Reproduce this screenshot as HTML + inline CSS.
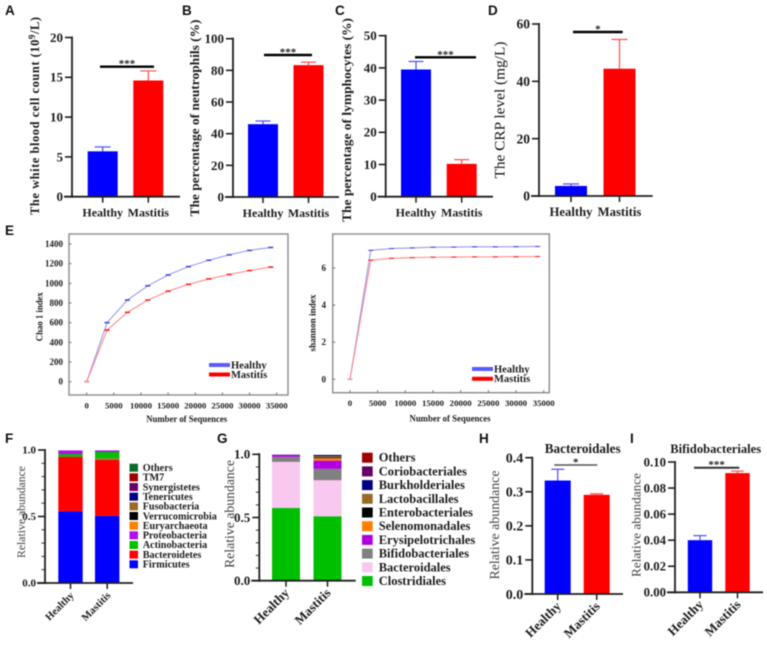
<!DOCTYPE html>
<html lang="en">
<head>
<meta charset="utf-8">
<title>Blood indices and gut microbiota in healthy and mastitis groups</title>
<style>
html,body{margin:0;padding:0;background:#fff;}
#figure{display:block;filter:blur(0.5px);}
text{font-family:"Liberation Serif",serif;fill:#1c1c1c;}
.bold{font-weight:700;}
.panel{font-family:"Liberation Sans",sans-serif;font-weight:700;font-size:13.5px;fill:#111;}
</style>
</head>
<body>
<svg id="figure" xmlns="http://www.w3.org/2000/svg" width="767" height="646" viewBox="0 0 767 646"></svg>
<script>
// ---------- DATA ----------
const groupLabels = ['Healthy', 'Mastitis'];

const aValues = [5.7, 14.6];
const aUpper = [6.25, 15.8];
const aTicks = [0, 5, 10, 15, 20];
const bValues = [46, 83.3];
const bUpper = [48, 85.2];
const bTicks = [0, 20, 40, 60, 80, 100];
const cValues = [39.5, 10.2];
const cUpper = [42, 11.5];
const cTicks = [0, 10, 20, 30, 40, 50];
const dValues = [3.5, 44.4];
const dUpper = [4.2, 54.6];
const dTicks = [0, 20, 40, 60];
const hValues = [0.333, 0.291];
const hUpper = [0.366, 0.294];
const hTicks = ['0.0', '0.1', '0.2', '0.3', '0.4'];
const iValues = [0.04, 0.0915];
const iUpper = [0.0435, 0.093];
const iTicks = ['0.00', '0.02', '0.04', '0.06', '0.08', '0.10'];

const sequences = [0, 3750, 7500, 11250, 15000, 18750, 22500, 26250, 30000, 33900];
const chaoHealthy = [0, 600, 830, 975, 1085, 1170, 1235, 1290, 1335, 1365];
const chaoMastitis = [0, 525, 705, 830, 920, 990, 1045, 1090, 1130, 1165];
const shannonHealthy = [0, 6.95, 7.05, 7.08, 7.12, 7.13, 7.14, 7.14, 7.15, 7.16];
const shannonMastitis = [0, 6.42, 6.52, 6.56, 6.58, 6.59, 6.6, 6.6, 6.61, 6.62];
const seqTicks = [0, 5000, 10000, 15000, 20000, 25000, 30000, 35000];
const chaoTicks = [0, 200, 400, 600, 800, 1000, 1200, 1400];
const shannonTicks = [0, 2, 4, 6];

const fStackNames = ['Firmicutes', 'Bacteroidetes', 'Unassigned', 'Actinobacteria', 'Proteobacteria'];
const fStackColors = ['#0000ff', '#ff0000', '#8c8a30', '#00c000', '#b010e8'];
const fHealthy = [0.54, 0.41, 0, 0.02, 0.027];
const fMastitis = [0.505, 0.42, 0.015, 0.045, 0.012];
const fLegendNames = ['Others', 'TM7', 'Synergistetes', 'Tenericutes', 'Fusobacteria', 'Verrucomicrobia', 'Euryarchaeota', 'Proteobacteria', 'Actinobacteria', 'Bacteroidetes', 'Firmicutes'];
const fLegendColors = ['#0b6b2b', '#a00000', '#660066', '#00007f', '#996a26', '#000000', '#ff8000', '#b010e8', '#00c000', '#ff0000', '#0000ff'];

const gStackNames = ['Clostridiales', 'Bacteroidales', 'Bifidobacteriales', 'Erysipelotrichales', 'Selenomonadales', 'Enterobacteriales', 'Lactobacillales', 'Burkholderiales'];
const gStackColors = ['#00bf00', '#f8c8f0', '#808080', '#b000e0', '#ff8000', '#000000', '#996a26', '#000080'];
const gHealthy = [0.575, 0.365, 0.04, 0.015, 0, 0, 0, 0.002];
const gMastitis = [0.51, 0.285, 0.09, 0.065, 0.02, 0.005, 0.01, 0.01];
const gLegendNames = ['Others', 'Coriobacteriales', 'Burkholderiales', 'Lactobacillales', 'Enterobacteriales', 'Selenomonadales', 'Erysipelotrichales', 'Bifidobacteriales', 'Bacteroidales', 'Clostridiales'];
const gLegendColors = ['#a00000', '#660066', '#000080', '#996a26', '#000000', '#ff8000', '#b000e0', '#808080', '#f8c8f0', '#00bf00'];
const stackTicks = ['0.0', '0.5', '1.0'];

const panelLetters = ['A', 'B', 'C', 'D', 'E', 'F', 'G', 'H', 'I'];

// ---------- HELPERS ----------
const NS = 'http://www.w3.org/2000/svg';
const root = document.getElementById('figure');

function mk(tag, attrs, parent) {
  const el = document.createElementNS(NS, tag);
  for (const k in attrs) el.setAttribute(k, attrs[k]);
  (parent || root).appendChild(el);
  return el;
}
function line(p, x1, y1, x2, y2, color, w) {
  return mk('line', {x1: x1, y1: y1, x2: x2, y2: y2, stroke: color, 'stroke-width': w}, p);
}
function label(p, str, x, y, size, anchor, bold, extra) {
  const t = mk('text', Object.assign({x: x, y: y, 'font-size': size, 'text-anchor': anchor || 'middle'}, extra || {}), p);
  if (bold) t.setAttribute('class', 'bold');
  t.textContent = str;
  return t;
}
function rotatedTitle(p, str, cx, cy, size, len, bold, color) {
  const t = mk('text', {
    transform: 'translate(' + cx + ' ' + cy + ') rotate(-90)',
    'font-size': size, 'text-anchor': 'middle', textLength: len, lengthAdjust: 'spacingAndGlyphs'
  }, p);
  if (bold) t.setAttribute('class', 'bold');
  if (color) t.setAttribute('style', 'fill:' + color);
  t.textContent = str;
  return t;
}
const AXIS = '#1e1e1e';

function axes(g, c, ticks, max, tickSize, minorStep) {
  const y = v => c.y0 - v / max * (c.y0 - c.yTop);
  const yAxis = line(g, c.x0, c.y0 + 1, c.x0, c.yTop - 1, AXIS, 1.8);
  
  
  const xAxis = line(g, c.x0 - 8, c.y0, c.xEnd, c.y0, AXIS, 1.8);
  
  
  ticks.forEach(tk => {
    const v = Number(tk);
    const tm = line(g, c.x0 - 7, y(v), c.x0, y(v), AXIS, 1.6);
    
    
    const tl = label(g, String(tk), c.x0 - 9, y(v) + tickSize * 0.34, tickSize, 'end', true);
    
    
  });
  if (minorStep) {
    for (let v = 0; v <= max + 1e-9; v += minorStep) {
      const mt = line(g, c.x0 - 3.5, y(v), c.x0, y(v), AXIS, 0.9);
      
      
    }
  }
  return y;
}
function xLabels(g, c) {
  groupLabels.forEach((name, i) => {
    const cx = c.centers[i];
    const tm = line(g, cx, c.y0, cx, c.y0 + 6, AXIS, 1.5);
    
    
    let t;
    if (c.rotated) {
      const ax = cx + 4, ay = c.y0 + 13;
      t = mk('text', {
        transform: 'translate(' + ax + ' ' + ay + ') rotate(-45)',
        'font-size': c.xSize, 'text-anchor': 'end'
      }, g);
      t.setAttribute('class', 'bold');
      t.textContent = name;
    } else {
      t = label(g, name, cx, c.y0 + 20, c.xSize, 'middle', true);
    }
    
    
  });
}

function barPanel(c, values, upper, ticks) {
  const g = mk('g', {});
  
  
  const colors = ['#0000ff', '#ff0000'];
  const errColors = ['#4a4aff', '#ff4a4a'];
  const max = Number(ticks[ticks.length - 1]);
  const y = v => c.y0 - v / max * (c.y0 - c.yTop);
  values.forEach((v, i) => {
    const cx = c.centers[i];
    const bar = mk('rect', {x: cx - c.barW / 2, y: y(v), width: c.barW, height: c.y0 - y(v), fill: colors[i]}, g);
    
    
    const stem = line(g, cx, y(v), cx, y(upper[i]), errColors[i], 1.2);
    
    
    const cap = line(g, cx - c.capW / 2, y(upper[i]), cx + c.capW / 2, y(upper[i]), errColors[i], 1.2);
    
    
  });
  axes(g, c, ticks, max, c.tickSize, 0);
  xLabels(g, c);
  const sig = line(g, c.sig[0], c.sig[2], c.sig[1], c.sig[2], c.sigColor || '#000', c.sigW || 2.4);
  
  
  const star = label(g, c.stars, (c.sig[0] + c.sig[1]) / 2, c.sig[2] + 0.5, 11, 'middle', true);
  
  
  return g;
}

function linePanel(c, healthy, mastitis, ticks) {
  const g = mk('g', {});
  
  
  const frame = mk('rect', {x: c.fx0, y: c.fy0, width: c.fx1 - c.fx0, height: c.fy1 - c.fy0, fill: '#fff', stroke: '#8c8c8c', 'stroke-width': 1.4}, g);
  
  
  const x = v => c.x0 + v / 35000 * (c.x35 - c.x0);
  const maxT = ticks[ticks.length - 1];
  const y = v => c.yZero - v / maxT * (c.yZero - c.yMax);
  ticks.forEach(tk => {
    const tm = line(g, c.fx0, y(tk), c.fx0 + 2.5, y(tk), '#666', 0.9);
    
    
    const tl = label(g, String(tk), c.yLabelX, y(tk) + 3, 9, 'end', true);
    
    
  });
  seqTicks.forEach(tk => {
    const tm = line(g, x(tk), c.fy1, x(tk), c.fy1 - 2.5, '#666', 0.9);
    
    
    const tl = label(g, String(tk), x(tk), c.xLabelY, 8.8, 'middle', true);
    
    
  });
  const series = [
    {id: 'healthy', data: healthy, line: '#9a9aec', mark: '#4a4ad8'},
    {id: 'mastitis', data: mastitis, line: '#ff8a8a', mark: '#ff2020'}
  ];
  series.forEach(s => {
    const pts = s.data.map((v, i) => x(sequences[i]) + ',' + y(v)).join(' ');
    const pl = mk('polyline', {points: pts, fill: 'none', stroke: s.line, 'stroke-width': 1.1}, g);
    
    
    s.data.forEach((v, i) => {
      const m = line(g, x(sequences[i]) - 2.5, y(v), x(sequences[i]) + 2.5, y(v), i === 0 ? s.line : s.mark, c.markW);
      
      
    });
  });
  const yt = rotatedTitle(g, c.yTitle, c.yTitleX, c.yTitleY, 9, c.yTitleLen, true);
  
  
  const xt = label(g, 'Number of Sequences', c.xTitleX, c.xTitleY, 9, 'middle', true, {textLength: 81, lengthAdjust: 'spacingAndGlyphs'});
  
  
  const leg = [['Healthy', '#5a5aff', c.legY[0]], ['Mastitis', '#ff0000', c.legY[1]]];
  leg.forEach(e => {
    const sw = line(g, c.legX, e[2], c.legX + 21, e[2], e[1], 4);
    
    
    const tx = label(g, e[0], c.legX + 22, e[2] + 3.5, 10.5, 'start', true);
    
    
  });
  return g;
}

function stackPanel(c, names, colors, healthy, mastitis, legendNames, legendColors) {
  const g = mk('g', {});
  
  
  const y = v => c.y0 - v * (c.y0 - c.yTop);
  [healthy, mastitis].forEach((vals, b) => {
    let acc = 0;
    vals.forEach((v, i) => {
      if (v <= 0) return;
      const seg = mk('rect', {x: c.centers[b] - c.barW / 2, y: y(acc + v), width: c.barW, height: y(acc) - y(acc + v), fill: colors[i]}, g);
      
      
      acc += v;
    });
  });
  axes(g, c, stackTicks, 1, c.tickSize, 0.1);
  xLabels(g, c);
  const yt = rotatedTitle(g, 'Relative abundance', c.yTitleX, c.yTitleY, c.yTitleSize, c.yTitleLen, false, '#444');
  
  
  legendNames.forEach((n, i) => {
    const ly = c.legTop + i * c.legStep;
    const sw = mk('rect', {x: c.legX, y: ly - c.swH / 2, width: c.swW, height: c.swH, fill: legendColors[i]}, g);
    
    
    const tx = label(g, n, c.legText, ly + c.legSize * 0.32, c.legSize, 'start', true);
    
    
  });
  return g;
}

// ---------- PANELS ----------
const pa = barPanel({name: 'panel-a-white-blood-cell', x0: 72, y0: 196.7, yTop: 37.5, xEnd: 180, centers: [102.7, 148.3], barW: 30, capW: 16, tickSize: 13, xSize: 12, sig: [100, 154, 66.7], stars: '***'}, aValues, aUpper, aTicks);
const ta = mk('text', {transform: 'translate(39 116) rotate(-90)', 'font-size': 12.5, 'text-anchor': 'middle', class: 'bold', textLength: 198, lengthAdjust: 'spacing'}, pa);


ta.appendChild(document.createTextNode('The white blood cell count (10'));
const sup = mk('tspan', {dy: -4, 'font-size': 9}, ta);
sup.textContent = '9';
const afterSup = mk('tspan', {dy: 4}, ta);
afterSup.textContent = '/L)';

const pb = barPanel({name: 'panel-b-neutrophils', x0: 233, y0: 197, yTop: 38.7, xEnd: 339, centers: [263, 308.5], barW: 30, capW: 15, tickSize: 13, xSize: 12, sig: [264, 312, 55], stars: '***'}, bValues, bUpper, bTicks);
const tb = rotatedTitle(pb, 'The percentage of neutrophils (%)', 199, 118, 12.5, 197, true);



const pc = barPanel({name: 'panel-c-lymphocytes', x0: 385.7, y0: 196.7, yTop: 35.7, xEnd: 493, centers: [416, 461.7], barW: 30, capW: 15, tickSize: 13, xSize: 12, sig: [415, 476, 57.3], stars: '***'}, cValues, cUpper, cTicks);
const tc = rotatedTitle(pc, 'The percentage of lymphocytes (%)', 351, 120, 12.5, 204, true);



const pd = barPanel({name: 'panel-d-crp', x0: 539, y0: 196, yTop: 24, xEnd: 652.7, centers: [571, 619.5], barW: 32, capW: 16, tickSize: 13.5, xSize: 12.7, sig: [573, 622.7, 32], stars: '*'}, dValues, dUpper, dTicks);
const td = rotatedTitle(pd, 'The CRP level (mg/L)', 504.5, 110, 14.5, 137, false, '#111');



linePanel({name: 'panel-e-chao1', fx0: 69, fx1: 288, fy0: 234, fy1: 395, x0: 86.7, x35: 276.7, yZero: 381.7, yMax: 244, yLabelX: 63, xLabelY: 408.5, markW: 1.6,
  yTitle: 'Chao 1 index', yTitleX: 42.5, yTitleY: 316.7, yTitleLen: 49, xTitleX: 186.7, xTitleY: 422, legX: 209, legY: [365, 374.5]}, chaoHealthy, chaoMastitis, chaoTicks);

linePanel({name: 'panel-e-shannon', fx0: 332.7, fx1: 549.3, fy0: 234, fy1: 392.7, x0: 350, x35: 543.7, yZero: 379.3, yMax: 268, yLabelX: 326, xLabelY: 406, markW: 1.1,
  yTitle: 'shannon  index', yTitleX: 315.5, yTitleY: 323, yTitleLen: 57, xTitleX: 450, xTitleY: 421.5, legX: 472, legY: [369, 378.7]}, shannonHealthy, shannonMastitis, shannonTicks);

stackPanel({name: 'panel-f-phylum-composition', x0: 45, y0: 583, yTop: 450, xEnd: 133, centers: [70.5, 107.2], barW: 24.4, tickSize: 11, xSize: 10.5, rotated: true,
  yTitleX: 25, yTitleY: 512, yTitleSize: 11.6, yTitleLen: 92, legX: 129.5, legText: 142.7, legTop: 467.7, legStep: 9.66, swW: 8.5, swH: 8, legSize: 10.2}, fStackNames, fStackColors, fHealthy, fMastitis, fLegendNames, fLegendColors);

stackPanel({name: 'panel-g-order-composition', x0: 259.3, y0: 580.7, yTop: 454.3, xEnd: 355.7, centers: [286, 327.5], barW: 28, tickSize: 13, xSize: 13, rotated: true,
  yTitleX: 234, yTitleY: 514, yTitleSize: 13.6, yTitleLen: 108, legX: 362, legText: 378.7, legTop: 457.7, legStep: 13.7, swW: 10.7, swH: 10, legSize: 12.5}, gStackNames, gStackColors, gHealthy, gMastitis, gLegendNames, gLegendColors);

const ph = barPanel({name: 'panel-h-bacteroidales', x0: 532.3, y0: 594, yTop: 457.7, xEnd: 623, centers: [557.7, 596.7], barW: 26, capW: 13, tickSize: 14, xSize: 13, rotated: true, sig: [554.3, 597.3, 465], sigColor: '#555', sigW: 1.5, stars: '*'}, hValues, hUpper, hTicks);
const th = rotatedTitle(ph, 'Relative abundance', 499, 525, 13.7, 109, false, '#444');


const hTitle = label(ph, 'Bacteroidales', 582.7, 453, 13.2, 'middle', true);



const pi = barPanel({name: 'panel-i-bifidobacteriales', x0: 675, y0: 592.3, yTop: 462, xEnd: 763, centers: [700, 737.5], barW: 24.4, capW: 13, tickSize: 12.8, xSize: 13, rotated: true, sig: [694, 739.3, 467.7], sigColor: '#333', sigW: 2, stars: '***'}, iValues, iUpper, iTicks);
const ti = rotatedTitle(pi, 'Relative abundance', 640.5, 525, 13, 104, false, '#444');


const iTitle = label(pi, 'Bifidobacteriales', 715.7, 453, 12.6, 'middle', true);



// panel letters
const letterX = [5, 182, 335, 488, 5, 5, 217, 479, 630];
const letterY = [15, 15, 15, 15, 235, 443, 443, 443, 443];
panelLetters.forEach((L, i) => {
  const t = mk('text', {x: letterX[i], y: letterY[i], class: 'panel'});
  t.textContent = L;
  
  
});
</script>
</body>
</html>
